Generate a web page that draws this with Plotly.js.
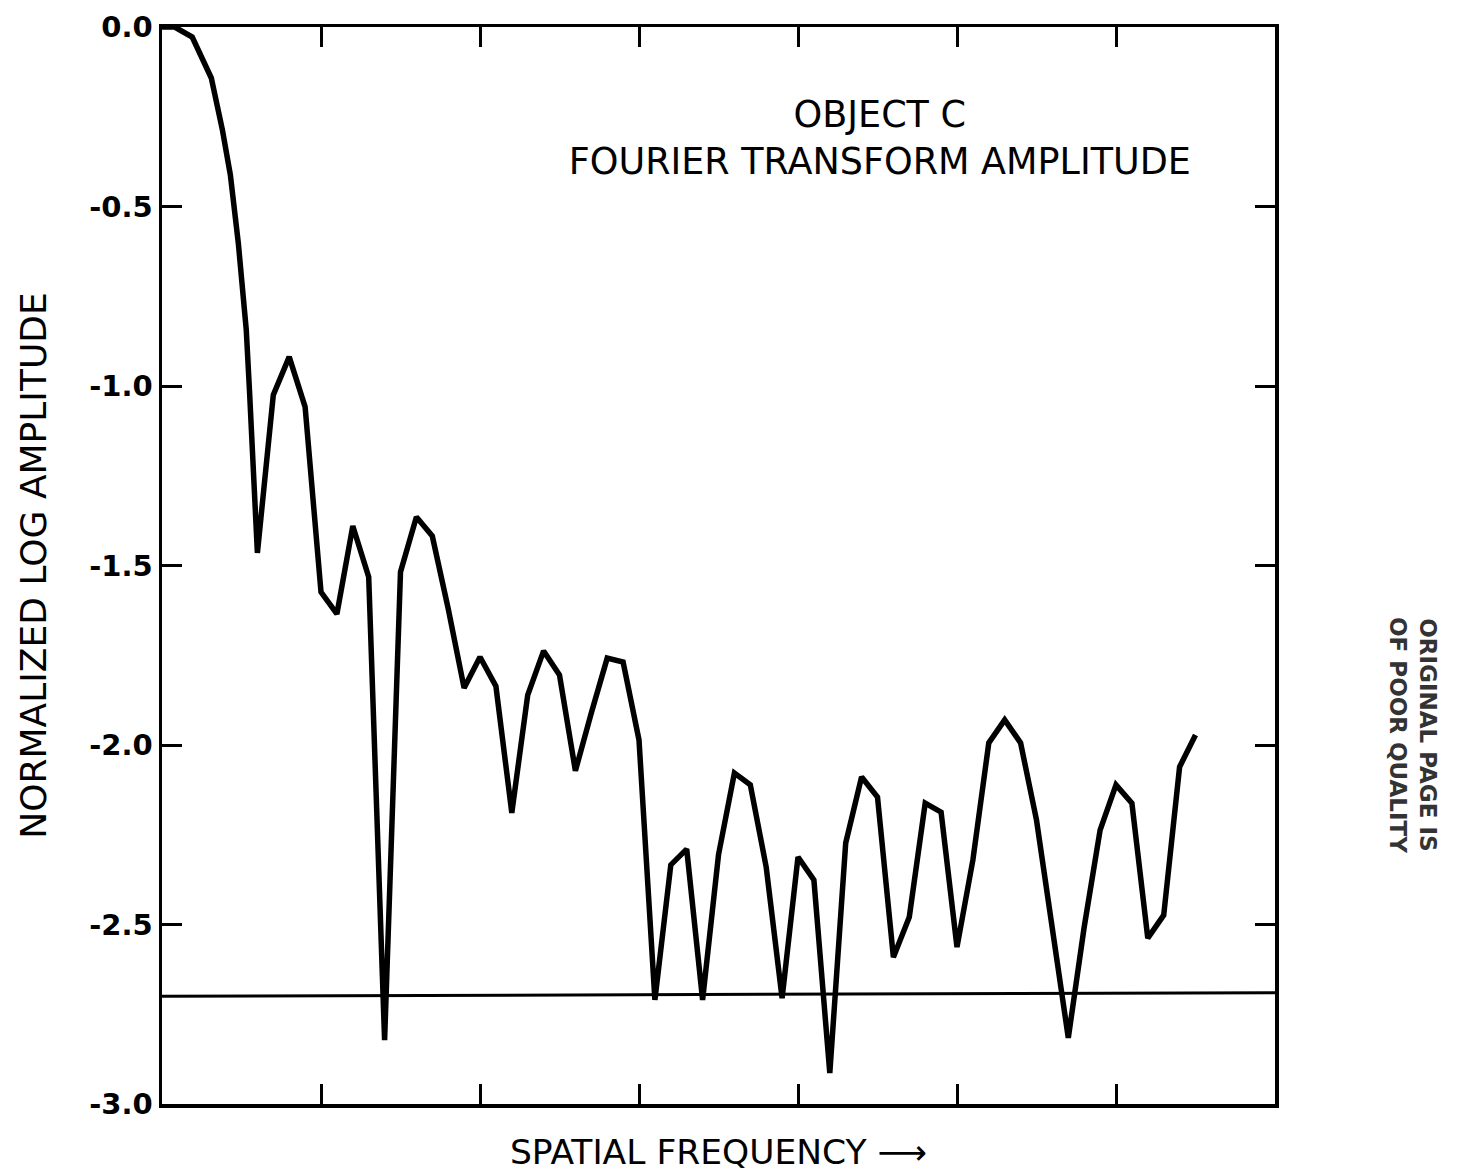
<!DOCTYPE html>
<html>
<head>
<meta charset="utf-8">
<script src="https://cdn.plot.ly/plotly-3.0.1.min.js"></script>
<style>
  html, body { margin: 0; padding: 0; background: #ffffff; }
  #chart { width: 1459px; height: 1174px; }
</style>
</head>
<body>
<div id="chart"></div>
<script>
// Spatial frequency (arbitrary units, axis spans 0..7)
const spatialFrequency = [
  0.00, 0.08, 0.19, 0.31, 0.38, 0.43, 0.48, 0.53, 0.55,
  0.60, 0.70, 0.80, 0.90, 1.00, 1.10, 1.20, 1.30, 1.40, 1.50,
  1.60, 1.70, 1.80, 1.90, 2.00, 2.10, 2.20, 2.30, 2.40, 2.50,
  2.60, 2.70, 2.80, 2.90, 3.00, 3.10, 3.20, 3.30, 3.40, 3.50,
  3.60, 3.70, 3.80, 3.90, 4.00, 4.10, 4.20, 4.30, 4.40, 4.50,
  4.60, 4.70, 4.80, 4.90, 5.00, 5.10, 5.20, 5.30, 5.40, 5.50,
  5.60, 5.70, 5.80, 5.90, 6.00, 6.10, 6.20, 6.30, 6.40, 6.50
];
// Normalized log amplitude of the Fourier transform of object C
const logAmplitude = [
  0.000, 0.000, -0.028, -0.142, -0.287, -0.412, -0.602, -0.844, -1.011,
  -1.465, -1.025, -0.919, -1.058, -1.574, -1.635, -1.390, -1.532, -2.822, -1.518,
  -1.365, -1.418, -1.620, -1.841, -1.755, -1.836, -2.189, -1.861, -1.738, -1.805,
  -2.072, -1.911, -1.758, -1.769, -1.986, -2.710, -2.334, -2.290, -2.710, -2.306,
  -2.078, -2.111, -2.340, -2.705, -2.312, -2.376, -2.914, -2.273, -2.089, -2.145,
  -2.591, -2.479, -2.162, -2.187, -2.563, -2.320, -1.994, -1.930, -1.994, -2.209,
  -2.507, -2.816, -2.507, -2.237, -2.111, -2.162, -2.538, -2.474, -2.061, -1.972
];
// Noise-level reference line
const noiseX = [0, 7];
const noiseY = [-2.70, -2.69];

// Axis ticks
const yTickVals = [0, -0.5, -1.0, -1.5, -2.0, -2.5, -3.0];
const yTickText = ["0.0", "-0.5", "-1.0", "-1.5", "-2.0", "-2.5", "-3.0"];
const xTickVals = [1, 2, 3, 4, 5, 6];

const traces = [
  {
    x: noiseX, y: noiseY, type: 'scatter', mode: 'lines',
    line: { color: '#000000', width: 3 },
    hoverinfo: 'skip', showlegend: false
  },
  {
    x: spatialFrequency, y: logAmplitude, type: 'scatter', mode: 'lines',
    line: { color: '#000000', width: 5.5, shape: 'linear' },
    showlegend: false
  }
];

const textFont = 'DejaVu Sans, Liberation Sans, sans-serif';

const layout = {
  width: 1459, height: 1174,
  paper_bgcolor: '#ffffff', plot_bgcolor: '#ffffff',
  margin: { l: 162, r: 184, t: 27, b: 70 },
  showlegend: false,
  font: { family: textFont, color: '#000000' },
  title: {
    text: 'OBJECT C<br>FOURIER TRANSFORM AMPLITUDE',
    font: { family: textFont, size: 36.5, color: '#000000' },
    xref: 'container', yref: 'container',
    x: 0.603, xanchor: 'center',
    y: 0.892, yanchor: 'middle'
  },
  xaxis: {
    range: [0, 7],
    tickvals: xTickVals,
    showticklabels: false,
    ticks: 'inside', ticklen: 20, tickwidth: 3, tickcolor: '#000000',
    showline: true, linewidth: 3.5, linecolor: '#000000', mirror: 'ticks',
    showgrid: false, zeroline: false,
    title: {
      text: 'SPATIAL FREQUENCY \u27F6',
      font: { family: textFont, size: 34.5, color: '#000000' },
      standoff: 34
    },
    automargin: false
  },
  yaxis: {
    range: [-3, 0],
    tickvals: yTickVals,
    ticktext: yTickText,
    tickfont: { family: 'DejaVu Sans, sans-serif', size: 29, weight: 'bold', color: '#000000' },
    ticks: 'inside', ticklen: 20, tickwidth: 3, tickcolor: '#000000',
    showline: true, linewidth: 3.5, linecolor: '#000000', mirror: 'ticks',
    showgrid: false, zeroline: false,
    title: {
      text: 'NORMALIZED LOG AMPLITUDE',
      font: { family: textFont, size: 36, color: '#000000' },
      standoff: 32
    },
    automargin: false
  },
  annotations: [
    {
      text: 'ORIGINAL PAGE IS<br>OF POOR QUALITY',
      xref: 'paper', yref: 'paper',
      x: (1413 - 162) / 1113, y: 1 - (735 - 27) / 1077,
      xanchor: 'center', yanchor: 'middle',
      textangle: 90, showarrow: false,
      font: { family: 'DejaVu Sans, sans-serif', size: 23, color: '#333333', weight: 'bold' }
    }
  ]
};

Plotly.newPlot('chart', traces, layout, { displayModeBar: false, staticPlot: true });
</script>
</body>
</html>
